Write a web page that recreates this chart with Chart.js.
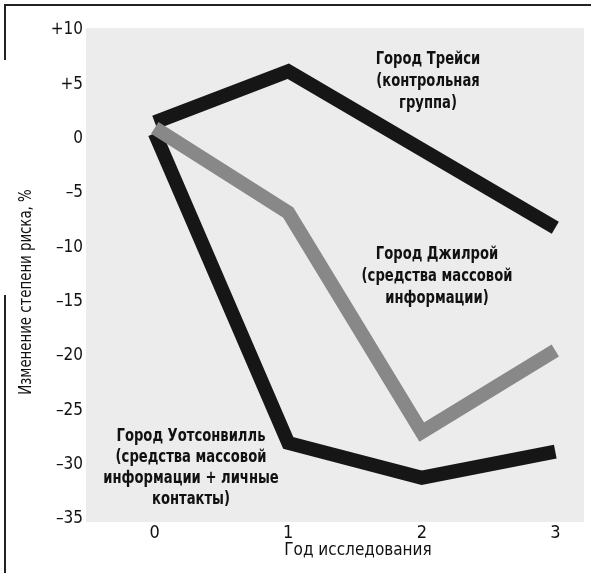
<!DOCTYPE html>
<html>
<head>
<meta charset="utf-8">
<script src="https://cdn.jsdelivr.net/npm/chart.js@4"></script>
<style>
  body { margin: 0; background: #fff; }
  #wrap { width: 591px; height: 573px; }
</style>
</head>
<body>
<div id="wrap"><canvas id="risk_chart" width="591" height="573"></canvas></div>
<script>
// year of the study
const years = [0, 1, 2, 3];
const yTicks = [10, 5, 0, -5, -10, -15, -20, -25, -30, -35];

// change of risk, %  (Tracy has no point at year 2)
const tracy = [1.5, 6.2, null, -8.2];
const gilroy = [1.0, -6.8, -27.0, -19.5];
const watsonville = [0.5, -28.0, -31.2, -28.8];

const labelTracy = ["Город Трейси", "(контрольная", "группа)"];
const labelGilroy = ["Город Джилрой", "(средства массовой", "информации)"];
const labelWatson = ["Город Уотсонвилль", "(средства массовой", "информации + личные", "контакты)"];

const FONT = "'Liberation Sans Narrow', 'DejaVu Sans Condensed', 'Liberation Sans', sans-serif";

function toPoints(values) {
    return years.map((x, i) => ({ x: x, y: values[i] }));
}

function fmtTick(v) {
    if (v > 0) return "+" + v;
    if (v < 0) return "\u2013" + Math.abs(v);
    return "0";
}

// text squeezed sideways, the print uses a narrow face
function narrowText(ctx, text, x, y, squeeze) {
    ctx.save();
    ctx.translate(x, y);
    ctx.scale(squeeze, 1);
    ctx.fillText(text, 0, 0);
    ctx.restore();
}

const paperPlugin = {
    id: "paper",
    beforeDraw(chart) {
        const ctx = chart.ctx;
        const a = chart.chartArea;
        ctx.save();
        ctx.fillStyle = "#ececec";
        ctx.fillRect(a.left - 2, a.top - 2, a.right - a.left + 4, a.bottom - a.top + 5);
        // scanned frame lines
        ctx.strokeStyle = "#222";
        ctx.lineWidth = 2;
        ctx.beginPath();
        ctx.moveTo(4, 5); ctx.lineTo(591, 5);
        ctx.moveTo(5, 4); ctx.lineTo(5, 60);
        ctx.moveTo(5, 295); ctx.lineTo(5, 573);
        ctx.stroke();
        ctx.restore();
    },
    afterDraw(chart) {
        const ctx = chart.ctx;
        ctx.save();
        ctx.fillStyle = "#111";
        ctx.textAlign = "center";
        ctx.textBaseline = "middle";
        ctx.font = "bold 17px " + FONT;

        function block(lines, cx, cy, lh) {
            lines.forEach((t, i) => narrowText(ctx, t, cx, cy + i * lh, 0.86));
        }
        block(labelTracy, 428, 60, 22);
        block(labelGilroy, 437, 255, 22);
        block(labelWatson, 191, 437, 21);

        // axis titles
        ctx.font = "17px " + FONT;
        ctx.fillText("Год исследования", 358, 551);
        ctx.translate(27, 292);
        ctx.rotate(-Math.PI / 2);
        narrowText(ctx, "Изменение степени риска, %", 0, 0, 0.87);
        ctx.restore();
    }
};

const lineStyle = {
    borderWidth: 14,
    pointRadius: 0,
    tension: 0,
    borderCapStyle: "butt",
    borderJoinStyle: "miter",
    spanGaps: true,
    fill: false
};

new Chart(document.getElementById("risk_chart"), {
    type: "line",
    data: {
        datasets: [
            Object.assign({ label: "Город Джилрой", data: toPoints(gilroy), borderColor: "#888888", order: 0 }, lineStyle),
            Object.assign({ label: "Город Трейси", data: toPoints(tracy), borderColor: "#161616", order: 1 }, lineStyle),
            Object.assign({ label: "Город Уотсонвилль", data: toPoints(watsonville), borderColor: "#161616", order: 1 }, lineStyle)
        ]
    },
    options: {
        responsive: false,
        animation: false,
        layout: { padding: { top: 30, right: 9, left: 0, bottom: 0 } },
        plugins: {
            legend: { display: false },
            tooltip: { enabled: false }
        },
        scales: {
            x: {
                type: "linear",
                min: -0.5,
                max: 3.2,
                grid: { display: false, drawTicks: false },
                border: { display: false },
                afterBuildTicks: (s) => { s.ticks = years.map(v => ({ value: v })); },
                afterFit: (s) => { s.height = 54; },
                ticks: {
                    color: "#111",
                    padding: 4,
                    font: { family: FONT, size: 18 },
                    maxRotation: 0,
                    callback: (v) => String(v)
                }
            },
            y: {
                min: -35,
                max: 10,
                grid: { display: false, drawTicks: false },
                border: { display: false },
                afterBuildTicks: (s) => { s.ticks = yTicks.map(v => ({ value: v })); },
                afterFit: (s) => { s.width = 88; },
                ticks: {
                    color: "#111",
                    padding: 5,
                    font: { family: FONT, size: 17 },
                    callback: (v) => fmtTick(v)
                }
            }
        }
    },
    plugins: [paperPlugin]
});
</script>
</body>
</html>
